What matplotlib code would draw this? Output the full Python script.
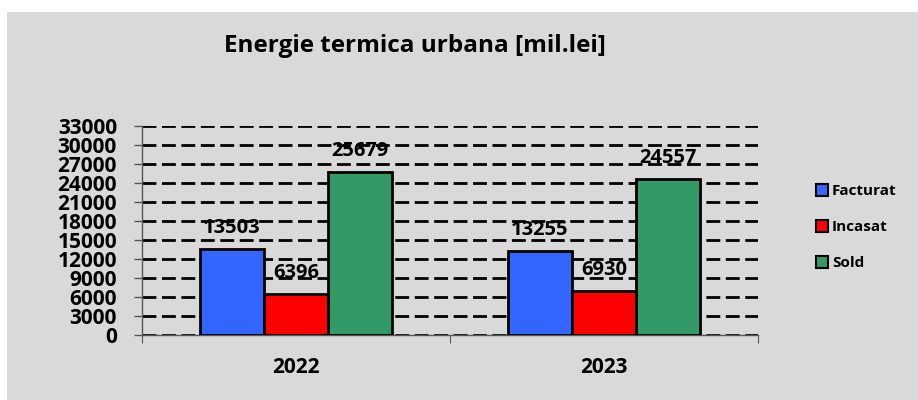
import numpy as np
import matplotlib.pyplot as plt
from matplotlib.patches import Rectangle
from matplotlib.lines import Line2D

plt.rcParams['font.family'] = ['Open Sans', 'DejaVu Sans']

# Data
years = ['2022', '2023']
series = ['Facturat', 'Incasat', 'Sold']
facturat = [13503, 13255]
incasat = [6396, 6930]
sold = [25679, 24557]
colors = ['#3366ff', '#ff0000', '#339966']

fig = plt.figure(figsize=(9.18, 4.0), dpi=100)
fig.patch.set_facecolor('white')
# gray chart area
fig.patches.append(Rectangle((7 / 918, 0), 1, 388 / 400, transform=fig.transFigure,
                             facecolor='#d9d9d9', edgecolor='none', zorder=-1))

ax = fig.add_axes([142 / 918, 65 / 400, 616 / 918, 209 / 400])
ax.set_facecolor('none')

x = np.arange(len(years))
w = 0.208
for i, (name, vals) in enumerate(zip(series, [facturat, incasat, sold])):
    bars = ax.bar(x + (i - 1) * w, vals, w, color=colors[i], edgecolor='black',
                  linewidth=2, label=name, zorder=3)
    for b, v in zip(bars, vals):
        ax.annotate(str(v), (b.get_x() + b.get_width() / 2, v), xytext=(0, 8),
                    textcoords='offset points', ha='center', va='bottom',
                    fontsize=14.5, fontweight='bold', zorder=4)

ax.set_xlim(-0.5, 1.5)
ax.set_ylim(0, 33000)
ax.set_yticks(np.arange(0, 33001, 3000))
ax.set_yticklabels([str(v) for v in range(0, 33001, 3000)], fontsize=15, fontweight='bold')
ax.yaxis.grid(True, color='black', linestyle=(0, (5, 2)), linewidth=2, zorder=1)
ax.tick_params(axis='y', length=6, width=1, color='#555555', pad=12)

ax.set_xticks([-0.5, 0.5, 1.5])
ax.set_xticklabels([])
ax.set_xticks(x, minor=True)
ax.set_xticklabels(years, minor=True, fontsize=15, fontweight='bold')
ax.tick_params(axis='x', which='major', length=6, color='#555555')
ax.tick_params(axis='x', which='minor', length=0, pad=16)

for s in ['top', 'right']:
    ax.spines[s].set_visible(False)
for s in ['left', 'bottom']:
    ax.spines[s].set_color('#555555')
    ax.spines[s].set_linewidth(1)

fig.text(415 / 918, 1 - 46 / 400, 'Energie termica urbana [mil.lei]', ha='center', va='center',
         fontsize=17.5, fontweight='bold')

handles = [Line2D([], [], marker='s', linestyle='none', markersize=8,
                  markerfacecolor=c, markeredgecolor='black', markeredgewidth=1.5) for c in colors]
fig.legend(handles, series, loc='upper left', bbox_to_anchor=(806 / 918, 1 - 178 / 400),
           frameon=False, prop={'weight': 'bold', 'size': 11}, labelspacing=1.45,
           handletextpad=0.0, handlelength=1.3, borderaxespad=0)

fig.savefig('out.png', dpi=100)
